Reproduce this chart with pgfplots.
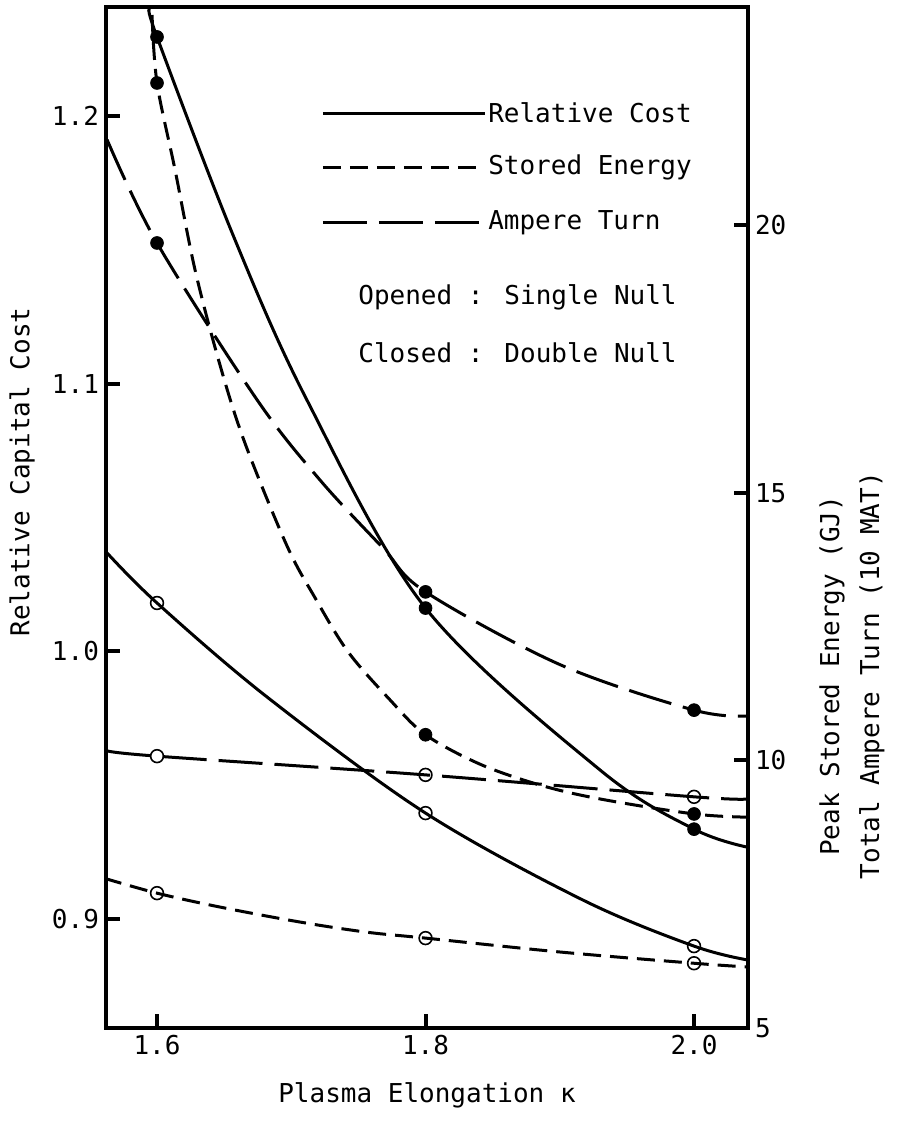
\documentclass[border=0pt]{standalone}
\usepackage{fontspec}
\setmainfont{DejaVu Sans Mono}
\usepackage{pgfplots}
\pgfplotsset{compat=1.18}

\tikzset{
  sd/.style={dash pattern=on 9pt off 4.5pt},
  ld/.style={dash pattern=on 22pt off 6pt},
  crv/.style={black, line width=1.5pt, smooth, tension=0.55, no marks},
  closedpt/.style={only marks, mark=*, mark size=3.2pt, mark options={solid, fill=black, draw=black}},
  openpt/.style={only marks, mark=o, mark size=3.2pt, mark options={solid, line width=0.8pt, draw=black}},
}
\pgfplotsset{
  base/.style={
    scale only axis, width=321pt, height=510.5pt,
    xmin=1.562, xmax=2.0402,
    axis line style={line width=2.2pt},
    tick align=inside,
    major tick length=7pt,
    every tick/.style={line width=2pt, black},
    /pgf/number format/assume math mode=true,
    clip mode=individual,
  },
}

\begin{document}
\begin{tikzpicture}[font=\fontsize{13}{15}\selectfont]
\useasboundingbox (-53pt,-47.5pt) rectangle (397.5pt,514pt);

% left axis: relative capital cost
\begin{axis}[base,
  ymin=0.8593, ymax=1.2408,
  xtick={1.6,1.8,2.0}, ytick={0.9,1.0,1.1,1.2},
  xtick pos=left, ytick pos=left,
  xticklabel style={/pgf/number format/.cd, fixed, fixed zerofill, precision=1},
  yticklabel style={/pgf/number format/.cd, fixed, fixed zerofill, precision=1},
  xlabel={Plasma Elongation κ},
  xlabel style={at={(axis description cs:0.5,-0.0656)}, anchor=center},
  ylabel={Relative Capital Cost},
  ylabel style={at={(axis description cs:-0.1308,0.5446)}, anchor=center},
]
% relative cost, double null
\addplot[crv] coordinates {
  (1.5948,1.2397) (1.6,1.2296) (1.6566,1.1556) (1.7117,1.0939)
  (1.8,1.0162) (1.930,0.9557) (2.0,0.9336) (2.0395,0.9269)
};
\addplot[closedpt] coordinates {(1.6,1.2296) (1.8,1.0162) (2.0,0.9336)};
% relative cost, single null
\addplot[crv] coordinates {
  (1.5628,1.0368) (1.6,1.0181) (1.6819,0.9830) (1.8,0.9396)
  (1.9173,0.9071) (2.0,0.8899) (2.0402,0.8847)
};
\addplot[openpt] coordinates {(1.6,1.0181) (1.8,0.9396) (2.0,0.8899)};

% legend and notes
\draw[line width=1.5pt] (axis description cs:0.338,0.896) -- (axis description cs:0.590,0.896)
  node[right, inner sep=1pt] {Relative Cost};
\draw[line width=1.5pt, sd] (axis description cs:0.338,0.843) -- (axis description cs:0.590,0.843)
  node[right, inner sep=1pt, solid] {Stored Energy};
\draw[line width=1.5pt, ld] (axis description cs:0.338,0.789) -- (axis description cs:0.590,0.789)
  node[right, inner sep=1pt, solid] {Ampere Turn};
\node[anchor=west, inner sep=0pt] at (axis description cs:0.3925,0.716) {Opened : Single Null};
\node[anchor=west, inner sep=0pt] at (axis description cs:0.3925,0.661) {Closed : Double Null};
\end{axis}

% right axis: stored energy and ampere turn
\begin{axis}[base,
  ymin=5, ymax=24.08,
  axis x line=none, axis y line*=right,
  ytick={5,10,15,20}, ytick pos=right,
  yticklabel style={anchor=west},
]
% stored energy, double null
\addplot[crv, sd] coordinates {
  (1.5963,23.93) (1.6,22.66) (1.6134,21.04) (1.6283,19.17) (1.6469,17.39)
  (1.6655,15.93) (1.6968,14.01) (1.7177,13.04) (1.7423,12.03) (1.7736,11.13)
  (1.8,10.48) (1.8406,9.93) (1.8853,9.54) (1.930,9.28) (2.0,9.00) (2.0395,8.94)
};
\addplot[closedpt] coordinates {(1.6,22.66) (1.8,10.48) (2.0,9.00)};
% ampere turn, double null
\addplot[crv, ld] coordinates {
  (1.5628,21.60) (1.6,19.67) (1.6745,16.74) (1.7214,15.24) (1.7683,13.97)
  (1.8,13.15) (1.9002,11.79) (2.0,10.94) (2.0395,10.83)
};
\addplot[closedpt] coordinates {(1.6,19.67) (1.8,13.15) (2.0,10.94)};
% ampere turn, single null
\addplot[crv, ld] coordinates {
  (1.5628,10.18) (1.6,10.08) (1.8,9.73) (2.0,9.32) (2.0395,9.28)
};
\addplot[openpt] coordinates {(1.6,10.08) (1.8,9.73) (2.0,9.32)};
% stored energy, single null
\addplot[crv, sd] coordinates {
  (1.5605,7.80) (1.6,7.52) (1.6469,7.26) (1.7065,6.98) (1.7564,6.79)
  (1.8,6.68) (1.9002,6.42) (2.0,6.21) (2.0402,6.14)
};
\addplot[openpt] coordinates {(1.6,7.52) (1.8,6.68) (2.0,6.21)};

\node[rotate=90] at (axis description cs:1.1308,0.345) {Peak Stored Energy (GJ)};
\node[rotate=90] at (axis description cs:1.1931,0.345) {Total Ampere Turn (10 MAT)};
\end{axis}
\end{tikzpicture}
\end{document}
